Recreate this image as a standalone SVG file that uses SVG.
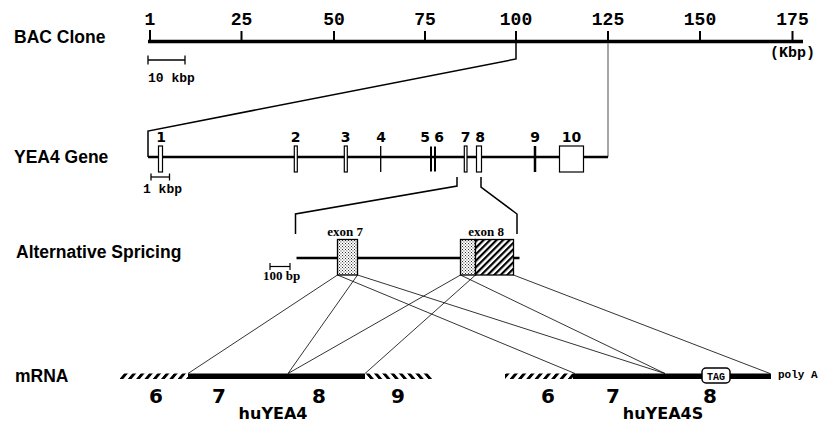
<svg xmlns="http://www.w3.org/2000/svg" width="830" height="428" viewBox="0 0 830 428">
<style>
.title{font-family:"Liberation Sans",Arial,sans-serif;font-weight:bold;font-size:17.5px;fill:#000}
.mono{font-family:"Liberation Mono","Courier New",monospace;font-weight:bold;fill:#000}
.num{font-family:"DejaVu Sans",sans-serif;font-weight:bold;fill:#000}
.serif{font-family:"Liberation Serif","Times New Roman",serif;font-weight:bold;font-size:13px;fill:#000}
.thin{stroke:#000;stroke-width:0.8;fill:none}
.brk{stroke:#000;stroke-width:1.5;fill:none}
.exon{fill:#fff;stroke:#000;stroke-width:1.2}
</style>
<defs>
<pattern id="dots" width="3" height="3" patternUnits="userSpaceOnUse">
<rect width="3" height="3" fill="#fff"/>
<rect x="0" y="0" width="0.9" height="0.9" fill="#000"/>
<rect x="1.5" y="1.5" width="0.9" height="0.9" fill="#000"/>
</pattern>
<pattern id="stripe" width="4.6" height="4.6" patternUnits="userSpaceOnUse" patternTransform="rotate(45)">
<rect width="4.6" height="4.6" fill="#fff"/>
<rect x="0" y="0" width="2.2" height="4.6" fill="#000"/>
</pattern>
<pattern id="hatchF" width="8.3" height="6" patternUnits="userSpaceOnUse" patternTransform="translate(0,373) skewX(-40)">
<rect x="0" y="0" width="3.8" height="6" fill="#000"/>
</pattern>
<pattern id="hatchB" width="8.3" height="6" patternUnits="userSpaceOnUse" patternTransform="translate(0,373) skewX(40)">
<rect x="0" y="0" width="3.8" height="6" fill="#000"/>
</pattern>
</defs>

<g id="labels">
<text class="title" x="14" y="43">BAC Clone</text>
<text class="title" x="14" y="163">YEA4 Gene</text>
<text class="title" x="16" y="258">Alternative Spricing</text>
<text class="title" x="15" y="382">mRNA</text>
</g>

<g id="bac-clone">
<line x1="148" y1="41.5" x2="803" y2="41.5" stroke="#000" stroke-width="3.5"/>
<g stroke="#000" stroke-width="2">
<line x1="150" y1="30" x2="150" y2="41"/>
<line x1="241.5" y1="31" x2="241.5" y2="41"/>
<line x1="334" y1="31" x2="334" y2="41"/>
<line x1="425" y1="31" x2="425" y2="41"/>
<line x1="516" y1="31" x2="516" y2="41"/>
<line x1="608" y1="31" x2="608" y2="41"/>
<line x1="700" y1="31" x2="700" y2="41"/>
<line x1="792.5" y1="31" x2="792.5" y2="41"/>
</g>
<g class="mono" font-size="18" text-anchor="middle">
<text x="150" y="25">1</text>
<text x="241.5" y="25">25</text>
<text x="334" y="25">50</text>
<text x="425" y="25">75</text>
<text x="516" y="25">100</text>
<text x="608" y="25">125</text>
<text x="700" y="25">150</text>
<text x="792.5" y="25">175</text>
</g>
<text class="mono" font-size="15" x="815" y="57" text-anchor="end">(Kbp)</text>
<g stroke="#000" stroke-width="1.3">
<line x1="148" y1="60" x2="185" y2="60"/>
<line x1="148" y1="55.5" x2="148" y2="64.5"/>
<line x1="185" y1="55.5" x2="185" y2="64.5"/>
</g>
<text class="mono" font-size="13" x="148" y="82">10 kbp</text>
</g>

<g id="connectors">
<polyline class="brk" points="516,43 516,59 148,131 148,157"/>
<line x1="608" y1="43" x2="608" y2="157" stroke="#888" stroke-width="1.5"/>
<polyline class="brk" points="457,177 457,186 295.5,214 295.5,234"/>
<polyline class="brk" points="481,177 481,187 517,214 517,234"/>
<line class="thin" x1="337.5" y1="275" x2="188" y2="373.5"/>
<line class="thin" x1="337.5" y1="275" x2="575" y2="373.5"/>
<line class="thin" x1="357.5" y1="275" x2="288" y2="373.5"/>
<line class="thin" x1="357.5" y1="275" x2="665" y2="373.5"/>
<line class="thin" x1="460.5" y1="275" x2="288" y2="373.5"/>
<line class="thin" x1="460.5" y1="275" x2="665" y2="373.5"/>
<line class="thin" x1="475.5" y1="275" x2="365" y2="373.5"/>
<line class="thin" x1="513.5" y1="275" x2="770" y2="373.5"/>
</g>

<g id="yea4-gene">
<line x1="148" y1="157" x2="608" y2="157" stroke="#000" stroke-width="2.5"/>
<rect class="exon" x="158.5" y="146" width="4" height="26"/>
<rect class="exon" x="294.3" y="146" width="3" height="26"/>
<rect class="exon" x="344.3" y="146" width="3" height="26"/>
<line x1="380.7" y1="146" x2="380.7" y2="172" stroke="#000" stroke-width="1.3"/>
<line x1="431" y1="146.5" x2="431" y2="171.5" stroke="#000" stroke-width="2"/>
<line x1="435" y1="146.5" x2="435" y2="171.5" stroke="#000" stroke-width="2"/>
<rect class="exon" x="464.3" y="146" width="2.7" height="26"/>
<rect class="exon" x="476.5" y="146" width="5" height="26"/>
<line x1="535" y1="146" x2="535" y2="172" stroke="#000" stroke-width="2.5"/>
<rect class="exon" x="559.5" y="146" width="24" height="26"/>
<g class="num" font-size="14" text-anchor="middle">
<text x="161" y="141.5">1</text>
<text x="295.5" y="141.5">2</text>
<text x="345.5" y="141.5">3</text>
<text x="381" y="141.5">4</text>
<text x="425" y="141.5">5</text>
<text x="439" y="141.5">6</text>
<text x="465.5" y="141.5">7</text>
<text x="480" y="141.5">8</text>
<text x="535" y="141.5">9</text>
<text x="571.5" y="141.5">10</text>
</g>
<g stroke="#000" stroke-width="1.3">
<line x1="151" y1="177" x2="169.5" y2="177"/>
<line x1="151" y1="173.5" x2="151" y2="180.5"/>
<line x1="169.5" y1="173.5" x2="169.5" y2="180.5"/>
</g>
<text class="mono" font-size="13" x="143" y="193">1 kbp</text>
</g>

<g id="splicing">
<line x1="296.5" y1="258" x2="519.5" y2="258" stroke="#000" stroke-width="2.5"/>
<rect x="337.5" y="239.5" width="20" height="35.5" fill="url(#dots)" stroke="#000" stroke-width="1.3"/>
<rect x="460.5" y="239.5" width="15" height="35.5" fill="url(#dots)" stroke="#000" stroke-width="1.3"/>
<rect x="475.5" y="239.5" width="38" height="35.5" fill="url(#stripe)" stroke="#000" stroke-width="1.3"/>
<text class="serif" x="345" y="235.5" text-anchor="middle">exon 7</text>
<text class="serif" x="486" y="235.5" text-anchor="middle">exon 8</text>
<g stroke="#000" stroke-width="1.2">
<line x1="270" y1="266.5" x2="290" y2="266.5"/>
<line x1="270" y1="263" x2="270" y2="270"/>
<line x1="290" y1="263" x2="290" y2="270"/>
</g>
<text class="serif" x="263" y="280">100 bp</text>
</g>

<g id="huYEA4">
<rect x="120" y="373.5" width="68" height="5.5" fill="url(#hatchF)"/>
<rect x="188" y="373.5" width="177" height="5.5" fill="#000"/>
<rect x="366" y="373.5" width="66" height="5.5" fill="url(#hatchB)"/>
<g class="num" font-size="20" text-anchor="middle">
<text x="156" y="403">6</text>
<text x="219" y="403">7</text>
<text x="319" y="403">8</text>
<text x="398" y="403">9</text>
</g>
<text class="num" font-size="16" x="273" y="419" text-anchor="middle">huYEA4</text>
</g>

<g id="huYEA4S">
<rect x="505" y="373.5" width="68" height="5.5" fill="url(#hatchF)"/>
<rect x="573" y="373.5" width="198" height="5.5" fill="#000"/>
<rect x="702" y="368" width="28" height="15" rx="4" fill="#fff" stroke="#000" stroke-width="1.5"/>
<text class="mono" font-size="10" x="716" y="379.5" text-anchor="middle">TAG</text>
<text class="mono" font-size="11" x="778" y="378">poly A</text>
<g class="num" font-size="20" text-anchor="middle">
<text x="548" y="403">6</text>
<text x="613" y="403">7</text>
<text x="710" y="403">8</text>
</g>
<text class="num" font-size="16" x="663" y="419" text-anchor="middle">huYEA4S</text>
</g>
</svg>
